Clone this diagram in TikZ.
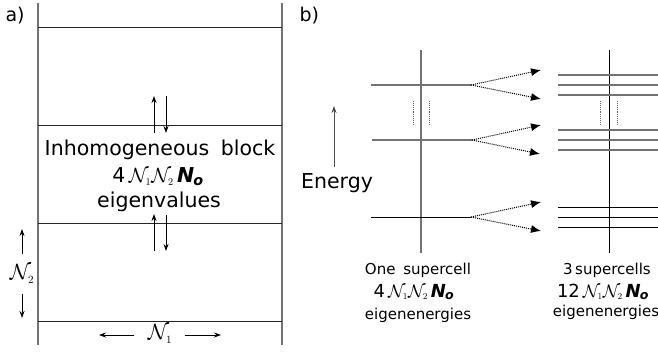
\RequirePackage{fix-cm}
\documentclass[tikz,border=0pt]{standalone}
\usepackage{fontspec}
\setmainfont{DejaVu Sans}
\usetikzlibrary{arrows.meta}
\newcommand{\NN}[1]{$\mathcal{N}_{\scriptscriptstyle #1}$}
\newcommand{\No}{\textbf{\textit{N\kern-0.05em\textsubscript{o}}}}
\begin{document}
\begin{tikzpicture}[x=1pt,y=-1pt,
  frame/.style={draw=black!55, line width=1.2pt},
  hline/.style={draw=black!85, line width=1pt},
  arr/.style={-{Stealth[length=7pt,width=5pt]}, line width=0.9pt},
  darr/.style={densely dotted, line width=1pt, -{Latex[length=10pt,width=8pt]}},
  glev/.style={draw=black!55, line width=1.3pt},
  blev/.style={draw=black, line width=1pt},
  vdots/.style={draw=black!60, densely dotted, line width=0.9pt},
  big/.style={font=\fontsize{20.5}{24}\selectfont},
  small/.style={font=\fontsize{15}{18}\selectfont},
  mid/.style={font=\fontsize{18}{21}\selectfont},
  lbl/.style={font=\fontsize{19}{22}\selectfont}
]
\useasboundingbox (0,0) rectangle (658,354);

% ---------- panel a ----------
\node[lbl, anchor=west] (la) at (2,16) {a)};
\coordinate (LT) at (38,3);  \coordinate (LB) at (38,345);
\coordinate (RT) at (282,3); \coordinate (RB) at (282,345);
\draw[frame] (LT) -- (LB);
\draw[frame] (RT) -- (RB);
\foreach \i/\yy in {1/27,2/125,3/223,4/321}{
  \coordinate (h\i l) at (38,\yy);
  \coordinate (h\i r) at (282,\yy);
  \draw[hline] (h\i l) -- (h\i r);
}
% up/down arrows
\coordinate (u1a) at (154,133); \coordinate (u1b) at (154,96);
\coordinate (d1a) at (166,96);  \coordinate (d1b) at (166,133);
\coordinate (u2a) at (154,251); \coordinate (u2b) at (154,214);
\coordinate (d2a) at (166,215); \coordinate (d2b) at (166,251);
\draw[arr] (u1a) -- (u1b);
\draw[arr] (d1a) -- (d1b);
\draw[arr] (u2a) -- (u2b);
\draw[arr] (d2a) -- (d2b);

\node[big] (blk) at (160,150) {Inhomogeneous\hspace{0.25em} block};
\node[big] (cnt) at (158,177) {4\,\NN{1}\NN{2}\,\No};
\node[big] (eig) at (159,202) {eigenvalues};

% N2 arrows
\node[font=\fontsize{22}{24}\selectfont] (n2) at (22,274) {\NN{2}};
\coordinate (n2u) at (22,229); \coordinate (n2d) at (22,318);
\draw[arr] (n2.north) ++(0,-7) coordinate (n2ua) -- (n2u);
\draw[arr] (n2.south) ++(0,7) coordinate (n2da) -- (n2d);
% N1 arrows
\node[font=\fontsize{22}{24}\selectfont] (n1) at (160,334) {\NN{1}};
\coordinate (n1l) at (99,335); \coordinate (n1r) at (221,335);
\coordinate (n1la) at (134,335); \coordinate (n1ra) at (185,335);
\draw[arr] (n1la) -- (n1l);
\draw[arr] (n1ra) -- (n1r);

% ---------- panel b ----------
\node[lbl, anchor=west] (lb) at (296,16) {b)};

% left level scheme
\coordinate (lvt) at (421,50); \coordinate (lvb) at (421,253);
\draw[glev] (lvt) -- (lvb);
\coordinate (a1l) at (371,85);  \coordinate (a1r) at (471,85);
\coordinate (a2l) at (372,140); \coordinate (a2r) at (472,140);
\coordinate (a3l) at (371,217); \coordinate (a3r) at (471,217);
\draw[glev] (a1l) -- (a1r);
\draw[glev] (a2l) -- (a2r);
\draw[blev] (a3l) -- (a3r);
\coordinate (ld1t) at (413,101); \coordinate (ld1b) at (413,124);
\coordinate (ld2t) at (429,101); \coordinate (ld2b) at (429,124);
\draw[vdots] (ld1t) -- (ld1b);
\draw[vdots] (ld2t) -- (ld2b);

% dotted arrows
\coordinate (t1u) at (541,70);  \coordinate (t1d) at (541,99);
\coordinate (t2u) at (541,125); \coordinate (t2d) at (540,154);
\coordinate (t3u) at (541,202); \coordinate (t3d) at (541,231);
\draw[darr] (a1r) -- (t1u);
\draw[darr] (a1r) -- (t1d);
\draw[darr] (a2r) -- (t2u);
\draw[darr] (a2r) -- (t2d);
\draw[darr] (a3r) -- (t3u);
\draw[darr] (a3r) -- (t3d);

% right level scheme
\coordinate (rvt) at (609,50); \coordinate (rvb) at (609,253);
\draw[blev] (rvt) -- (rvb);
\foreach \i/\yy in {1/75,2/85,3/95,4/130,5/140,6/150}{
  \coordinate (b\i l) at (558,\yy); \coordinate (b\i r) at (658,\yy);
  \draw[glev] (b\i l) -- (b\i r);
}
\foreach \i/\yy in {7/207,8/217,9/227}{
  \coordinate (b\i l) at (558,\yy); \coordinate (b\i r) at (658,\yy);
  \draw[blev] (b\i l) -- (b\i r);
}
\coordinate (rd1t) at (600,101); \coordinate (rd1b) at (600,124);
\coordinate (rd2t) at (617,101); \coordinate (rd2b) at (617,124);
\draw[vdots] (rd1t) -- (rd1b);
\draw[vdots] (rd2t) -- (rd2b);

% Energy
\node[big] (en) at (337,183) {Energy};
\coordinate (eb) at (334,167); \coordinate (et) at (334,106);
\draw[arr, draw=black!70, line width=1pt] (eb) -- (et);

% bottom labels
\node[small] (one) at (418,270) {One\hspace{0.2em} supercell};
\node[mid] (c1) at (414,292) {4\,\NN{1}\NN{2}\,\No};
\node[small] (e1) at (418,315) {eigenenergies};
\node[small] (three) at (607,270) {3\,supercells};
\node[mid] (c3) at (603,292) {12\,\NN{1}\NN{2}\,\No};
\node[small] (e3) at (606,312) {eigenenergies};
\end{tikzpicture}
\end{document}
